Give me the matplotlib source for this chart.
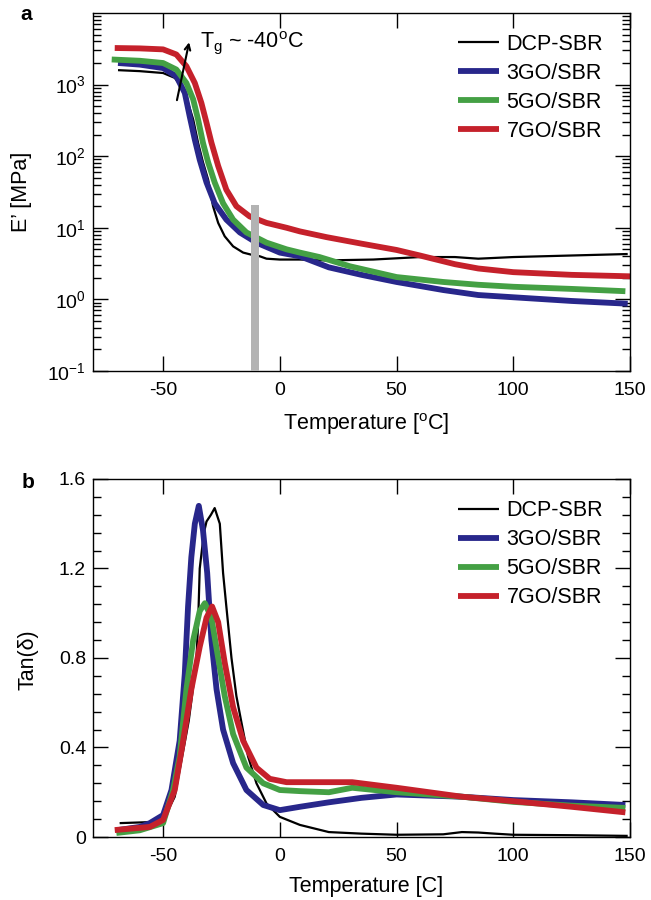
import numpy as np
import matplotlib
matplotlib.use('Agg')
import matplotlib.pyplot as plt
from matplotlib.ticker import FixedLocator, MultipleLocator, NullFormatter

plt.rcParams['font.family'] = ['Liberation Sans', 'DejaVu Sans']
plt.rcParams['mathtext.fontset'] = 'custom'
plt.rcParams['mathtext.rm'] = 'Liberation Sans'
plt.rcParams['mathtext.it'] = 'Liberation Sans:italic'
plt.rcParams['mathtext.default'] = 'regular'
plt.rcParams['axes.unicode_minus'] = False

# ---- данные, панель a: E' (МПа) от температуры ----
labels = ['DCP-SBR', '3GO/SBR', '5GO/SBR', '7GO/SBR']
colors = ['black', '#28278b', '#44a044', '#c5212b']

a_dcp_T = [-69.3, -60, -50, -45, -42.1, -39.3, -37.1, -35, -32.9, -30.7, -28.6, -26.4, -23.6,
           -20, -15.7, -12.1, -8.6, -5.7, 0, 8.6, 20, 40, 60, 75, 85, 100, 125, 149]
a_dcp_E = [1590, 1540, 1450, 1240, 950, 555, 325, 153, 82, 47, 20, 11.7, 7.6,
           5.5, 4.5, 4.2, 4.0, 3.7, 3.6, 3.6, 3.5, 3.6, 3.9, 3.9, 3.7, 3.9, 4.1, 4.3]

a_3go_T = [-69.3, -60, -50, -44.3, -40.7, -38.6, -36.4, -34.3, -31.4, -27.9, -22.9, -17.1,
           -10, 0, 8.6, 21, 35, 50, 70, 85, 100, 125, 149]
a_3go_E = [2000, 1900, 1700, 1300, 765, 360, 170, 89, 43, 22, 13, 8.6,
           6.2, 4.5, 4.0, 2.8, 2.2, 1.75, 1.35, 1.15, 1.07, 0.95, 0.87]

a_5go_T = [-72, -60, -50, -44.3, -40, -37.1, -35, -32.9, -30.7, -27.9, -24.3, -20, -14.3,
           -5.7, 2.9, 8.6, 17, 30, 50, 70, 85, 100, 125, 148]
a_5go_E = [2240, 2150, 2000, 1620, 1050, 620, 325, 153, 82, 43, 22, 13, 8.6,
           6.2, 5.0, 4.5, 3.9, 2.9, 2.05, 1.75, 1.6, 1.5, 1.4, 1.3]

a_7go_T = [-70.7, -60, -50, -44.3, -40, -36.4, -33.6, -31.4, -29.3, -26.4, -22.9, -18.6,
           -12.9, -5.7, 2.9, 8.6, 20, 35, 50, 60, 75, 85, 100, 125, 150]
a_7go_E = [3240, 3200, 3100, 2630, 1800, 1050, 555, 293, 155, 73, 34, 20,
           14.4, 11.7, 10, 8.9, 7.4, 6, 4.9, 4.1, 3.1, 2.7, 2.4, 2.2, 2.1]

# ---- данные, панель b: tan(delta) ----
b_dcp_T = [-68.6, -54.3, -50, -45, -42, -39, -37, -35.8, -35, -34.3, -32.5, -31.4, -29.5, -27.9,
           -25.7, -24.3, -22.9, -20.7, -18.6, -16.4, -13.6, -10, -5.7, 0, 8.6, 21, 35, 50,
           70, 78, 85, 92, 100, 125, 149]
b_dcp_tan = [0.062, 0.067, 0.075, 0.18, 0.35, 0.52, 0.68, 0.78, 0.95, 1.2, 1.36, 1.41, 1.44, 1.47,
             1.40, 1.18, 1.03, 0.80, 0.63, 0.51, 0.36, 0.24, 0.15, 0.09, 0.054, 0.022, 0.015,
             0.01, 0.012, 0.022, 0.02, 0.015, 0.01, 0.008, 0.005]

b_3go_T = [-70, -60, -55.7, -50, -46.4, -42.9, -40.7, -39.3, -37.9, -36.4, -34.7, -32.9, -31.1,
           -29.3, -27.1, -24.3, -20, -14.3, -7.1, 0, 8.6, 21, 35, 50, 78, 100, 125, 148]
b_3go_tan = [0.03, 0.045, 0.062, 0.098, 0.21, 0.43, 0.73, 1.03, 1.25, 1.40, 1.48, 1.37, 1.18,
             0.88, 0.66, 0.48, 0.33, 0.21, 0.143, 0.12, 0.135, 0.155, 0.175, 0.19, 0.18, 0.165,
             0.155, 0.143]

b_5go_T = [-70, -60, -50, -45.7, -42.9, -40, -37.1, -34.3, -32.1, -29.3, -26.4, -23.6, -20,
           -14.3, -7.1, 0, 8.6, 21, 31, 50, 78, 100, 125, 148]
b_5go_tan = [0.018, 0.03, 0.062, 0.21, 0.36, 0.66, 0.88, 1.01, 1.045, 0.98, 0.80, 0.63, 0.46,
             0.31, 0.24, 0.21, 0.205, 0.2, 0.22, 0.20, 0.18, 0.157, 0.14, 0.13]

b_7go_T = [-70.7, -55.7, -50, -45, -41.4, -37.9, -34.3, -31.4, -29, -26.4, -23.6, -20, -15.7,
           -10, -4.3, 2.9, 8.6, 21, 31, 50, 78, 100, 125, 148]
b_7go_tan = [0.031, 0.045, 0.076, 0.21, 0.43, 0.66, 0.85, 0.98, 1.03, 0.96, 0.78, 0.58, 0.43,
             0.31, 0.26, 0.245, 0.245, 0.245, 0.245, 0.22, 0.18, 0.16, 0.135, 0.11]

# серая полоса и стрелка Tg
band_T = [-12.5, -9.1]
band_top = 21
arrow_from = (-44.3, 555)
arrow_to = (-38.6, 4250)

fig = plt.figure(figsize=(6.51, 9), dpi=100)
ax1 = fig.add_axes([0.1429, 0.5878, 0.8249, 0.3978])
ax2 = fig.add_axes([0.1429, 0.07, 0.8249, 0.3978])

a_T = [a_dcp_T, a_3go_T, a_5go_T, a_7go_T]
a_E = [a_dcp_E, a_3go_E, a_5go_E, a_7go_E]
b_T = [b_dcp_T, b_3go_T, b_5go_T, b_7go_T]
b_tan = [b_dcp_tan, b_3go_tan, b_5go_tan, b_7go_tan]
widths = [1.6, 4.2, 4.2, 4.2]

for T, E, c, lw, lab in zip(a_T, a_E, colors, widths, labels):
    ax1.plot(T, E, color=c, lw=lw, label=lab, solid_joinstyle='round', solid_capstyle='butt')
for T, tn, c, lw, lab in zip(b_T, b_tan, colors, widths, labels):
    ax2.plot(T, tn, color=c, lw=lw, label=lab, solid_joinstyle='round', solid_capstyle='butt')

ax1.fill_between(band_T, 0.1, band_top, color='#b3b3b3', zorder=5, lw=0)

ax1.set_yscale('log')
ax1.set_ylim(0.1, 1e4)
ax1.yaxis.set_major_locator(FixedLocator([0.1, 1, 10, 100, 1000]))
ax1.set_yticklabels(['$10^{-1}$', '$10^{0}$', '$10^{1}$', '$10^{2}$', '$10^{3}$'])
ax1.yaxis.set_minor_locator(FixedLocator([m * 10.0 ** k for k in range(-1, 4) for m in range(2, 10)]))
ax1.yaxis.set_minor_formatter(NullFormatter())

ax2.set_ylim(0, 1.6)
ax2.yaxis.set_minor_locator(MultipleLocator(0.08))
ax2.set_yticks([0, 0.4, 0.8, 1.2, 1.6])
ax2.set_yticklabels(['0', '0.4', '0.8', '1.2', '1.6'])

for ax, top in ((ax1, 0.966), (ax2, 0.964)):
    ax.set_xlim(-80, 150)
    ax.set_xticks([-50, 0, 50, 100, 150])
    ax.tick_params(which='both', direction='in', top=True, right=True, width=1,
                   labelsize=14)
    ax.tick_params(which='major', length=11, pad=8)
    ax.tick_params(which='minor', length=6)
    ax.tick_params(axis='y', pad=5)
    for s in ax.spines.values():
        s.set_linewidth(1.0)
    ax.legend(loc='upper right', bbox_to_anchor=(0.966, top), borderaxespad=0, frameon=False,
              fontsize=15.5, handlelength=1.9, handletextpad=0.36, labelspacing=0.37)

ax1.set_xlabel('Temperature [$^{o}$C]', fontsize=15.5)
ax1.set_ylabel('E’ [MPa]', fontsize=15.5)
ax2.set_xlabel('Temperature [C]', fontsize=15.5)
ax2.set_ylabel('Tan(δ)', fontsize=15.5)
ax1.xaxis.set_label_coords(0.508, -0.112)
ax2.xaxis.set_label_coords(0.508, -0.11)
ax1.yaxis.set_label_coords(-0.114, 0.5)
ax2.yaxis.set_label_coords(-0.102, 0.494)

ax1.annotate('', xy=arrow_to, xytext=arrow_from,
             arrowprops=dict(arrowstyle='->', lw=1.5, color='black'))
ax1.text(-34.3, 3800, 'T$_g$ ~ -40$^o$C', fontsize=15.5, va='center')

fig.text(20 / 651, 1 - 15 / 900, 'a', fontsize=15, fontweight='bold', va='center')
fig.text(22 / 651, 1 - 482 / 900, 'b', fontsize=15, fontweight='bold', va='center')

fig.savefig('out.png', dpi=100)
